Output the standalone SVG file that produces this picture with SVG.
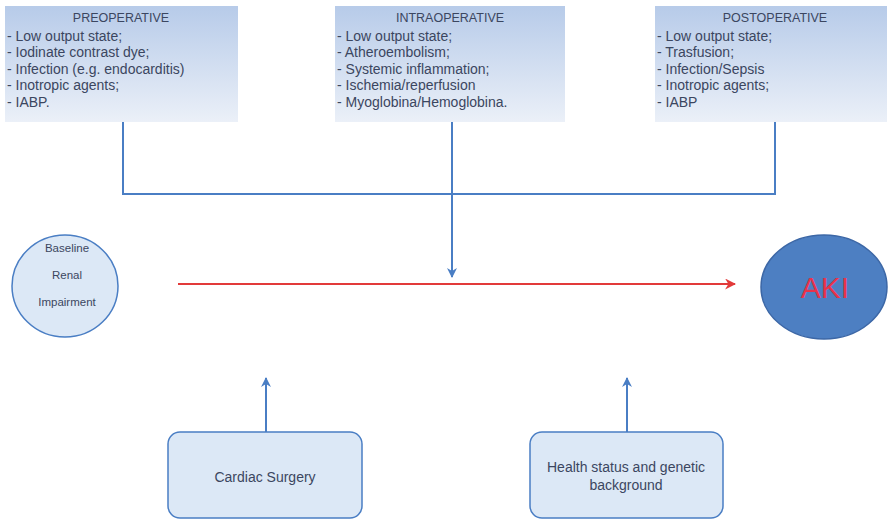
<svg xmlns="http://www.w3.org/2000/svg" width="889" height="520" viewBox="0 0 889 520">
  <defs>
    <linearGradient id="phaseFill" x1="0" y1="0" x2="0" y2="1">
      <stop offset="0" stop-color="#b7cbe9"/>
      <stop offset="1" stop-color="#ebf0f8"/>
    </linearGradient>
    <marker id="arrowBlue" viewBox="0 0 10 10" refX="9" refY="5" markerWidth="5" markerHeight="5" orient="auto" markerUnits="strokeWidth">
      <path d="M0,0 L10,5 L0,10 L3,5 z" fill="#4a7ec4"/>
    </marker>
    <marker id="arrowRed" viewBox="0 0 10 10" refX="9" refY="5" markerWidth="5" markerHeight="5" orient="auto" markerUnits="strokeWidth">
      <path d="M0,0 L10,5 L0,10 L3,5 z" fill="#e23a3a"/>
    </marker>
    <style>
      .txt { font-family: "Liberation Sans", Arial, sans-serif; font-size: 14px; fill: #3b4660; }
      .title { text-anchor: middle; font-size: 12.5px; }
      .mid { text-anchor: middle; }
      .small { font-size: 11.5px; }
      .phase { fill: url(#phaseFill); stroke: none; }
      .soft { fill: #dce8f6; stroke: #4a7ec4; stroke-width: 1.5; }
      .link { fill: none; stroke: #4a7ec4; stroke-width: 2; }
    </style>
  </defs>

  <rect width="889" height="520" fill="#ffffff"/>

  <!-- phase boxes -->
  <g id="preoperative">
    <rect class="phase" x="5" y="6" width="233" height="116"/>
    <text class="txt title" x="121" y="22">PREOPERATIVE</text>
    <text class="txt" x="7" y="41">- Low output state;</text>
    <text class="txt" x="7" y="57">- Iodinate contrast dye;</text>
    <text class="txt" x="7" y="74">- Infection (e.g. endocarditis)</text>
    <text class="txt" x="7" y="90">- Inotropic agents;</text>
    <text class="txt" x="7" y="107">- IABP.</text>
  </g>

  <g id="intraoperative">
    <rect class="phase" x="335" y="6" width="230" height="116"/>
    <text class="txt title" x="450" y="22">INTRAOPERATIVE</text>
    <text class="txt" x="337" y="41">- Low output state;</text>
    <text class="txt" x="337" y="57">- Atheroembolism;</text>
    <text class="txt" x="337" y="74">- Systemic inflammation;</text>
    <text class="txt" x="337" y="90">- Ischemia/reperfusion</text>
    <text class="txt" x="337" y="107">- Myoglobina/Hemoglobina.</text>
  </g>

  <g id="postoperative">
    <rect class="phase" x="655" y="6" width="232" height="116"/>
    <text class="txt title" x="775" y="22">POSTOPERATIVE</text>
    <text class="txt" x="657" y="41">- Low output state;</text>
    <text class="txt" x="657" y="57">- Trasfusion;</text>
    <text class="txt" x="657" y="74">- Infection/Sepsis</text>
    <text class="txt" x="657" y="90">- Inotropic agents;</text>
    <text class="txt" x="657" y="107">- IABP</text>
  </g>

  <!-- connectors -->
  <g id="connectors">
    <path class="link" d="M123,122 V194 H775 V122"/>
    <path class="link" d="M452,122 V277" marker-end="url(#arrowBlue)"/>
    <path class="link" d="M266,432 V378" marker-end="url(#arrowBlue)"/>
    <path class="link" d="M627,432 V378" marker-end="url(#arrowBlue)"/>
    <path d="M178,284 H735" fill="none" stroke="#e23a3a" stroke-width="2.2" marker-end="url(#arrowRed)"/>
  </g>

  <g id="baseline">
    <ellipse class="soft" cx="65" cy="286" rx="53" ry="51"/>
    <text class="txt mid small" x="67" y="252">Baseline</text>
    <text class="txt mid small" x="67" y="279">Renal</text>
    <text class="txt mid small" x="67" y="306">Impairment</text>
  </g>

  <g id="aki">
    <ellipse cx="824" cy="287" rx="63" ry="52" fill="#4d7fc2" stroke="#3c67a6" stroke-width="1.5"/>
    <text x="825" y="298" text-anchor="middle" font-family="Liberation Sans, Arial, sans-serif" font-size="30" fill="#e8324a">AKI</text>
  </g>

  <g id="cardiac-surgery">
    <rect class="soft" x="168" y="432" width="194" height="86" rx="12"/>
    <text class="txt mid" x="265" y="482">Cardiac Surgery</text>
  </g>

  <g id="health-status">
    <rect class="soft" x="530" y="432" width="193" height="86" rx="12"/>
    <text class="txt mid" x="626" y="472">Health status and genetic</text>
    <text class="txt mid" x="626" y="490">background</text>
  </g>
</svg>
